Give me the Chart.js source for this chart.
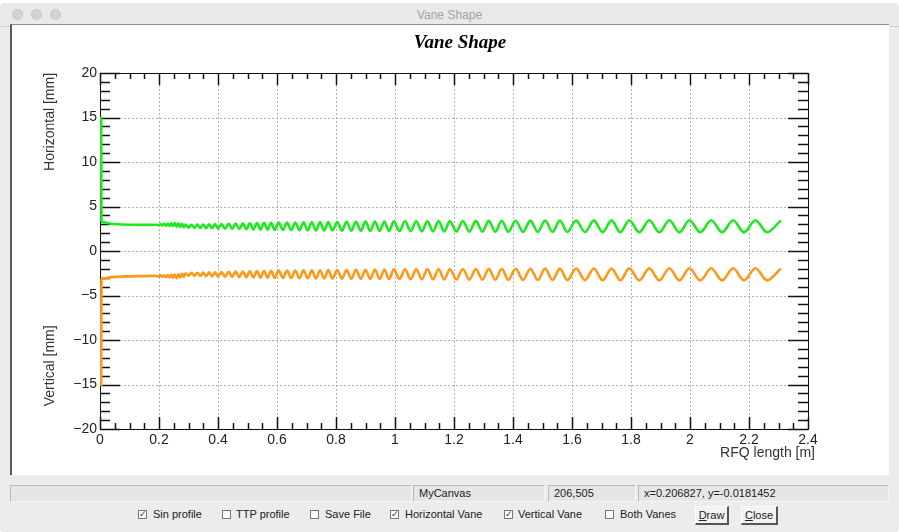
<!DOCTYPE html>
<html>
<head>
<meta charset="utf-8">
<script src="https://cdn.jsdelivr.net/npm/chart.js@4.4.1/dist/chart.umd.min.js"></script>
<style>
  html, body { margin: 0; padding: 0; background: #fff; }
  body { width: 899px; height: 532px; overflow: hidden; position: relative; font-family: "Liberation Sans", Arial, sans-serif; }
  #win { position: absolute; left: 0; top: 3px; width: 899px; height: 529px; background: #ececec; border-radius: 5px 5px 4px 4px; }
  #titlebar { position: absolute; left: 0; top: 0; width: 899px; height: 23px; background: #e9e9e9; border-bottom: 1px solid #cfcfcf; border-radius: 5px 5px 0 0; }
  .dot { position: absolute; top: 6px; width: 11px; height: 11px; border-radius: 50%; background: #d3d3d3; border: 1px solid #c6c6c6; box-sizing: border-box; }
  .wtitle { position: absolute; left: 0; width: 899px; top: 5px; text-align: center; font-size: 12px; color: #a3a3a3; }
  #pad { position: absolute; left: 10px; top: 24px; width: 879px; height: 451px; background: #fff; border-left: 2px solid #5a5a5a; border-top: 1px solid #8a8a8a; box-sizing: border-box; }
  #chartBox { position: absolute; left: 11px; top: 28px; width: 876px; height: 446px; }
  .field { position: absolute; top: 485px; height: 17px; background: #e6e6e6; border: 1px solid #b9b9b9; border-right-color: #f4f4f4; border-bottom-color: #f4f4f4; box-sizing: border-box; font-size: 11px; color: #222; line-height: 15px; padding-left: 5px; white-space: nowrap; }
  .chk { position: absolute; top: 510px; width: 9px; height: 9px; border: 1px solid #777; background: #fff; box-sizing: border-box; font-size: 9px; line-height: 7px; text-align: center; color: #333; }
  .lbl { position: absolute; top: 508px; font-size: 11px; color: #222; white-space: nowrap; }
  .btn { position: absolute; top: 506px; height: 19px; background: #f2f2f2; border: 1px solid #fff; border-right: 2px solid #555; border-bottom: 2px solid #555; box-sizing: border-box; font-size: 11px; color: #222; text-align: center; line-height: 16px; }
</style>
</head>
<body>
<div id="win">
  <div id="titlebar">
    <span class="dot" style="left:12px"></span>
    <span class="dot" style="left:31px"></span>
    <span class="dot" style="left:50px"></span>
    <div class="wtitle">Vane Shape</div>
  </div>
</div>
<div id="pad"></div>
<div id="chartBox"><canvas id="vane-shape"></canvas></div>

<div class="field" style="left:10px;width:402px;"></div>
<div class="field" style="left:413px;width:132px;">MyCanvas</div>
<div class="field" style="left:548px;width:88px;">206,505</div>
<div class="field" style="left:638px;width:251px;">x=0.206827, y=-0.0181452</div>

<div class="chk" style="left:138px;">&#10003;</div><div class="lbl" style="left:153px;">Sin profile</div>
<div class="chk" style="left:222px;"></div><div class="lbl" style="left:236px;">TTP profile</div>
<div class="chk" style="left:310px;"></div><div class="lbl" style="left:325px;">Save File</div>
<div class="chk" style="left:390px;">&#10003;</div><div class="lbl" style="left:405px;">Horizontal Vane</div>
<div class="chk" style="left:504px;">&#10003;</div><div class="lbl" style="left:518px;">Vertical Vane</div>
<div class="chk" style="left:605px;"></div><div class="lbl" style="left:620px;">Both Vanes</div>
<div class="btn" style="left:695px;width:34px;"><u>D</u>raw</div>
<div class="btn" style="left:741px;width:37px;"><u>C</u>lose</div>

<script>
// position along the RFQ [m] (shared by both vanes)
const zPos = [
  0.004, 0.005, 0.010, 0.030, 0.060, 0.100, 0.150, 0.190,
  0.200, 0.206, 0.212, 0.218, 0.224, 0.230, 0.236, 0.242, 0.248, 0.254, 0.260, 0.266, 0.272, 0.278, 0.284, 0.290,
  0.300, 0.310, 0.320, 0.330, 0.340, 0.350, 0.360, 0.370, 0.380, 0.390, 0.400,
  0.412, 0.424, 0.436, 0.448, 0.460, 0.472, 0.484, 0.496, 0.508, 0.520, 0.532, 0.544, 0.556, 0.568, 0.580, 0.592,
  0.606, 0.620, 0.634, 0.648, 0.662, 0.676, 0.690, 0.704, 0.718, 0.732, 0.746, 0.760, 0.774, 0.788,
  0.804, 0.820, 0.836, 0.852, 0.868, 0.884, 0.900, 0.916, 0.932, 0.948, 0.964, 0.980, 0.996,
  1.015, 1.034, 1.053, 1.072, 1.091, 1.110, 1.129, 1.148, 1.167, 1.186,
  1.208, 1.230, 1.252, 1.274, 1.296, 1.318, 1.340, 1.362, 1.384,
  1.409, 1.434, 1.459, 1.484, 1.509, 1.534, 1.559, 1.584,
  1.614, 1.644, 1.674, 1.704, 1.734, 1.764, 1.794,
  1.828, 1.862, 1.896, 1.930, 1.964, 1.998,
  2.035, 2.072, 2.109, 2.146, 2.183,
  2.222, 2.261, 2.308
];

// horizontal vane [mm]
const horizMM = [
  15.1, 3.40, 3.25, 3.10, 3.00, 2.95, 2.93, 2.95,
  2.88, 3.03, 2.86, 3.06, 2.84, 3.09, 2.82, 3.12, 2.80, 3.14, 2.74, 3.12, 2.70, 3.06, 2.66, 2.98,
  2.63, 2.94, 2.61, 2.96, 2.59, 2.98, 2.57, 3.00, 2.55, 3.02, 2.53,
  3.04, 2.51, 3.06, 2.49, 3.08, 2.47, 3.10, 2.45, 3.12, 2.43, 3.14, 2.41, 3.16, 2.40, 3.17, 2.38,
  3.19, 2.37, 3.20, 2.36, 3.21, 2.34, 3.22, 2.33, 3.23, 2.32, 3.24, 2.31, 3.25, 2.30,
  3.26, 2.29, 3.27, 2.28, 3.28, 2.27, 3.30, 2.26, 3.31, 2.25, 3.32, 2.24, 3.33,
  2.23, 3.34, 2.22, 3.34, 2.21, 3.35, 2.21, 3.36, 2.20, 3.36,
  2.19, 3.37, 2.18, 3.38, 2.18, 3.39, 2.17, 3.40, 2.16,
  3.40, 2.15, 3.41, 2.15, 3.42, 2.14, 3.42, 2.13,
  3.43, 2.13, 3.44, 2.12, 3.44, 2.11, 3.45,
  2.11, 3.45, 2.10, 3.46, 2.10, 3.46,
  2.10, 3.46, 2.10, 3.46, 2.10,
  3.46, 2.10, 3.44
];

// vertical vane [mm]
const vertMM = [
  -15.2, -3.20, -3.10, -2.98, -2.90, -2.85, -2.82, -2.80,
  -2.88, -2.74, -2.90, -2.72, -2.93, -2.70, -2.96, -2.68, -3.00, -2.66, -3.05, -2.62, -2.98, -2.55, -2.90, -2.50,
  -2.77, -2.46, -2.79, -2.44, -2.81, -2.42, -2.83, -2.40, -2.85, -2.38, -2.87,
  -2.36, -2.89, -2.34, -2.91, -2.32, -2.93, -2.30, -2.95, -2.28, -2.97, -2.26, -2.99, -2.24, -3.00, -2.23, -3.02,
  -2.21, -3.03, -2.20, -3.04, -2.19, -3.06, -2.18, -3.07, -2.17, -3.08, -2.16, -3.09, -2.15, -3.10,
  -2.14, -3.11, -2.13, -3.12, -2.12, -3.13, -2.10, -3.14, -2.09, -3.15, -2.08, -3.16, -2.07,
  -3.17, -2.06, -3.18, -2.06, -3.19, -2.05, -3.19, -2.04, -3.20, -2.04,
  -3.21, -2.03, -3.22, -2.02, -3.22, -2.01, -3.23, -2.00, -3.24,
  -2.00, -3.25, -1.99, -3.25, -1.98, -3.26, -1.98, -3.27,
  -1.97, -3.27, -1.96, -3.28, -1.96, -3.29, -1.95,
  -3.29, -1.95, -3.30, -1.94, -3.30, -1.94,
  -3.30, -1.94, -3.30, -1.94, -3.30,
  -1.94, -3.30, -1.96
];

const xTickLabels = ['0', '0.2', '0.4', '0.6', '0.8', '1', '1.2', '1.4', '1.6', '1.8', '2', '2.2', '2.4'];
const yTickLabels = ['\u221220', '\u221215', '\u221210', '\u22125', '0', '5', '10', '15', '20'];

// ejes al estilo ROOT: rejilla punteada, marco y marcas hacia dentro
const marcoRoot = {
  id: 'marcoRoot',
  beforeDatasetsDraw(chart) {
    const { ctx, chartArea: a, scales: { x, y } } = chart;
    ctx.save();
    ctx.strokeStyle = '#b0b0b0';
    ctx.lineWidth = 1;
    ctx.setLineDash([2, 2]);
    ctx.beginPath();
    for (let i = 1; i < xTickLabels.length - 1; i++) {
      const px = Math.round(x.getPixelForValue(i * 0.2)) + 0.5;
      ctx.moveTo(px, a.top); ctx.lineTo(px, a.bottom);
    }
    for (let i = 1; i < yTickLabels.length - 1; i++) {
      const py = Math.round(y.getPixelForValue(-20 + i * 5)) + 0.5;
      ctx.moveTo(a.left, py); ctx.lineTo(a.right, py);
    }
    ctx.stroke();
    ctx.setLineDash([]);

    ctx.strokeStyle = '#111';
    ctx.lineWidth = 1.5;
    ctx.beginPath();
    // x: mayores cada 0.2, menores cada 0.05
    for (let i = 0; i <= 48; i++) {
      const px = Math.round(x.getPixelForValue(i * 0.05)) + 0.5;
      const len = i % 4 === 0 ? 12 : 6;
      ctx.moveTo(px, a.bottom); ctx.lineTo(px, a.bottom - len);
      ctx.moveTo(px, a.top); ctx.lineTo(px, a.top + len);
    }
    // y: mayores cada 5, menores cada 1
    for (let i = 0; i <= 40; i++) {
      const py = Math.round(y.getPixelForValue(-20 + i)) + 0.5;
      const len = i % 5 === 0 ? 20 : 10;
      ctx.moveTo(a.left, py); ctx.lineTo(a.left + len, py);
      ctx.moveTo(a.right, py); ctx.lineTo(a.right - len, py);
    }
    ctx.stroke();
    ctx.lineWidth = 1;
    ctx.strokeRect(Math.round(a.left) + 0.5, Math.round(a.top) + 0.5, Math.round(a.right - a.left), Math.round(a.bottom - a.top));
    ctx.restore();
  },
  afterDatasetsDraw(chart) {
    const { ctx, chartArea: a, scales: { x, y } } = chart;
    ctx.save();
    ctx.fillStyle = '#000';
    ctx.font = 'bold italic 19px "Liberation Serif", serif';
    ctx.textAlign = 'center';
    ctx.textBaseline = 'middle';
    ctx.fillText('Vane Shape', 449, 15);

    ctx.fillStyle = '#333';
    ctx.font = '14px "Liberation Sans", Arial, sans-serif';
    ctx.textAlign = 'right';
    ctx.fillText('RFQ length [m]', x.getPixelForValue(2.4) + 7, a.bottom + 24);

    ctx.textAlign = 'center';
    [['Horizontal [mm]', 14.5], ['Vertical [mm]', -12.9]].forEach(([txt, v]) => {
      ctx.save();
      ctx.translate(a.left - 50, y.getPixelForValue(v));
      ctx.rotate(-Math.PI / 2);
      ctx.fillText(txt, 0, 0);
      ctx.restore();
    });
    ctx.restore();
  }
};

const ctxVane = document.getElementById('vane-shape');

new Chart(ctxVane, {
  type: 'line',
  data: {
    datasets: [{
      label: 'Horizontal',
      data: zPos.map((z, i) => ({ x: z, y: horizMM[i] })),
      borderColor: '#1ee81e',
      borderWidth: 2.6,
      pointRadius: 0,
      fill: false,
      cubicInterpolationMode: 'monotone'
    }, {
      label: 'Vertical',
      data: zPos.map((z, i) => ({ x: z, y: vertMM[i] })),
      borderColor: '#ff981a',
      borderWidth: 2.6,
      pointRadius: 0,
      fill: false,
      cubicInterpolationMode: 'monotone'
    }]
  },
  options: {
    responsive: true,
    maintainAspectRatio: false,
    animation: false,
    layout: {
      padding: { top: 45, right: 79, left: 0, bottom: 0 }
    },
    plugins: {
      legend: { display: false },
      title: { display: false },
      tooltip: { enabled: false }
    },
    scales: {
      x: {
        type: 'linear',
        min: 0,
        max: 2.4,
        grid: { display: false, drawTicks: false },
        border: { display: false },
        afterFit: (scale) => { scale.height = 45; },
        ticks: {
          stepSize: 0.2,
          autoSkip: false,
          maxRotation: 0,
          padding: 3,
          color: '#222',
          font: { size: 14, family: "'Liberation Sans', Arial, sans-serif" },
          callback: (value, index) => xTickLabels[index]
        }
      },
      y: {
        type: 'linear',
        min: -20,
        max: 20,
        grid: { display: false, drawTicks: false },
        border: { display: false },
        afterFit: (scale) => { scale.width = 89; },
        ticks: {
          stepSize: 5,
          padding: 3,
          color: '#222',
          font: { size: 14, family: "'Liberation Sans', Arial, sans-serif" },
          callback: (value, index) => yTickLabels[index]
        }
      }
    }
  },
  plugins: [marcoRoot]
});
</script>
</body>
</html>
